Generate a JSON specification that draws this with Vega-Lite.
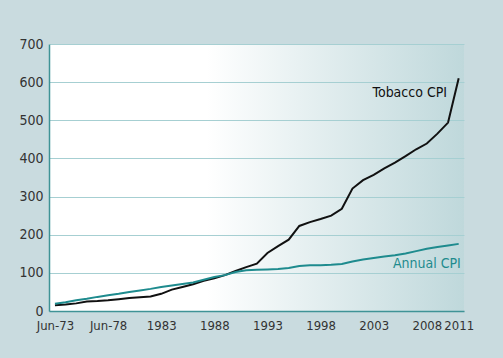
{
  "$schema": "https://vega.github.io/schema/vega-lite/v6.json",
  "width": 415,
  "height": 267,
  "autosize": "none",
  "padding": {"left": 49, "top": 44, "right": 39, "bottom": 47},
  "background": "#c9dbdf",
  "config": {
    "view": {
      "stroke": null,
      "fill": {"gradient": "linear", "x1": 0, "y1": 0, "x2": 1, "y2": 0,
        "stops": [{"offset": 0, "color": "#ffffff"}, {"offset": 0.38, "color": "#ffffff"}, {"offset": 1, "color": "#bfd8db"}]}
    },
    "font": "DejaVu Sans Condensed",
    "axis": {"labelFont": "DejaVu Sans Condensed", "labelFontSize": 14, "labelColor": "#333333", "ticks": false, "title": null, "domainColor": "#3f9396", "domainWidth": 1.5, "labelOverlap": false, "labelFlush": false, "labelBound": false}
  },
  "datasets": {
    "cpi": [
      {"year": 1973, "series": "Tobacco CPI", "value": 15},
      {"year": 1974, "series": "Tobacco CPI", "value": 17},
      {"year": 1975, "series": "Tobacco CPI", "value": 20},
      {"year": 1976, "series": "Tobacco CPI", "value": 25},
      {"year": 1977, "series": "Tobacco CPI", "value": 26},
      {"year": 1978, "series": "Tobacco CPI", "value": 28},
      {"year": 1979, "series": "Tobacco CPI", "value": 31},
      {"year": 1980, "series": "Tobacco CPI", "value": 34},
      {"year": 1981, "series": "Tobacco CPI", "value": 36},
      {"year": 1982, "series": "Tobacco CPI", "value": 38},
      {"year": 1983, "series": "Tobacco CPI", "value": 45},
      {"year": 1984, "series": "Tobacco CPI", "value": 56},
      {"year": 1985, "series": "Tobacco CPI", "value": 63},
      {"year": 1986, "series": "Tobacco CPI", "value": 70},
      {"year": 1987, "series": "Tobacco CPI", "value": 79},
      {"year": 1988, "series": "Tobacco CPI", "value": 86},
      {"year": 1989, "series": "Tobacco CPI", "value": 94},
      {"year": 1990, "series": "Tobacco CPI", "value": 105},
      {"year": 1991, "series": "Tobacco CPI", "value": 115},
      {"year": 1992, "series": "Tobacco CPI", "value": 124},
      {"year": 1993, "series": "Tobacco CPI", "value": 152},
      {"year": 1994, "series": "Tobacco CPI", "value": 170},
      {"year": 1995, "series": "Tobacco CPI", "value": 187},
      {"year": 1996, "series": "Tobacco CPI", "value": 223},
      {"year": 1997, "series": "Tobacco CPI", "value": 233},
      {"year": 1998, "series": "Tobacco CPI", "value": 241},
      {"year": 1999, "series": "Tobacco CPI", "value": 250},
      {"year": 2000, "series": "Tobacco CPI", "value": 268},
      {"year": 2001, "series": "Tobacco CPI", "value": 321},
      {"year": 2002, "series": "Tobacco CPI", "value": 343},
      {"year": 2003, "series": "Tobacco CPI", "value": 357},
      {"year": 2004, "series": "Tobacco CPI", "value": 374},
      {"year": 2005, "series": "Tobacco CPI", "value": 389},
      {"year": 2006, "series": "Tobacco CPI", "value": 406},
      {"year": 2007, "series": "Tobacco CPI", "value": 424},
      {"year": 2008, "series": "Tobacco CPI", "value": 439},
      {"year": 2009, "series": "Tobacco CPI", "value": 465},
      {"year": 2010, "series": "Tobacco CPI", "value": 494},
      {"year": 2011, "series": "Tobacco CPI", "value": 610},
      {"year": 1973, "series": "Annual CPI", "value": 19},
      {"year": 1974, "series": "Annual CPI", "value": 23},
      {"year": 1975, "series": "Annual CPI", "value": 28},
      {"year": 1976, "series": "Annual CPI", "value": 32},
      {"year": 1977, "series": "Annual CPI", "value": 37},
      {"year": 1978, "series": "Annual CPI", "value": 41},
      {"year": 1979, "series": "Annual CPI", "value": 45},
      {"year": 1980, "series": "Annual CPI", "value": 50},
      {"year": 1981, "series": "Annual CPI", "value": 54},
      {"year": 1982, "series": "Annual CPI", "value": 58},
      {"year": 1983, "series": "Annual CPI", "value": 63},
      {"year": 1984, "series": "Annual CPI", "value": 67},
      {"year": 1985, "series": "Annual CPI", "value": 71},
      {"year": 1986, "series": "Annual CPI", "value": 75},
      {"year": 1987, "series": "Annual CPI", "value": 82},
      {"year": 1988, "series": "Annual CPI", "value": 89},
      {"year": 1989, "series": "Annual CPI", "value": 94},
      {"year": 1990, "series": "Annual CPI", "value": 102},
      {"year": 1991, "series": "Annual CPI", "value": 107},
      {"year": 1992, "series": "Annual CPI", "value": 108},
      {"year": 1993, "series": "Annual CPI", "value": 109},
      {"year": 1994, "series": "Annual CPI", "value": 110},
      {"year": 1995, "series": "Annual CPI", "value": 113},
      {"year": 1996, "series": "Annual CPI", "value": 118},
      {"year": 1997, "series": "Annual CPI", "value": 120},
      {"year": 1998, "series": "Annual CPI", "value": 120},
      {"year": 1999, "series": "Annual CPI", "value": 121},
      {"year": 2000, "series": "Annual CPI", "value": 123},
      {"year": 2001, "series": "Annual CPI", "value": 130},
      {"year": 2002, "series": "Annual CPI", "value": 135},
      {"year": 2003, "series": "Annual CPI", "value": 139},
      {"year": 2004, "series": "Annual CPI", "value": 143},
      {"year": 2005, "series": "Annual CPI", "value": 146},
      {"year": 2006, "series": "Annual CPI", "value": 151},
      {"year": 2007, "series": "Annual CPI", "value": 157},
      {"year": 2008, "series": "Annual CPI", "value": 163},
      {"year": 2009, "series": "Annual CPI", "value": 168},
      {"year": 2010, "series": "Annual CPI", "value": 172},
      {"year": 2011, "series": "Annual CPI", "value": 176}
    ],
    "labels": [
      {"year": 2009.9, "value": 572, "series": "Tobacco CPI"},
      {"year": 2011.2, "value": 124, "series": "Annual CPI"}
    ]
  },
  "encoding": {
    "x": {"field": "year", "type": "quantitative",
      "scale": {"domain": [1972.44, 2011.5], "nice": false, "zero": false},
      "axis": {"values": [1973, 1978, 1983, 1988, 1993, 1998, 2003, 2008, 2011], "grid": false, "labelPadding": 8, "labelFontSize": 13,
        "labelExpr": "datum.value == 1973 ? 'Jun-73' : datum.value == 1978 ? 'Jun-78' : format(datum.value, 'd')"}},
    "y": {"field": "value", "type": "quantitative",
      "scale": {"domain": [0, 700], "nice": false},
      "axis": {"values": [0, 100, 200, 300, 400, 500, 600, 700], "grid": true, "gridColor": "#a6cfd2", "gridWidth": 1, "labelPadding": 6, "labelFontSize": 14}}
  },
  "layer": [
    {
      "data": {"name": "cpi"},
      "mark": {"type": "line", "strokeWidth": 2, "clip": false},
      "encoding": {
        "color": {"field": "series", "type": "nominal",
          "scale": {"domain": ["Tobacco CPI", "Annual CPI"], "range": ["#111111", "#1e8b8e"]}, "legend": null},
        "order": {"field": "year", "type": "quantitative"}
      }
    },
    {
      "data": {"name": "labels"},
      "mark": {"type": "text", "align": "right", "baseline": "middle", "fontSize": 14, "font": "DejaVu Sans Condensed"},
      "encoding": {
        "text": {"field": "series"},
        "color": {"field": "series", "type": "nominal", "scale": {"domain": ["Tobacco CPI", "Annual CPI"], "range": ["#222222", "#2e9095"]}, "legend": null}
      }
    }
  ]
}
